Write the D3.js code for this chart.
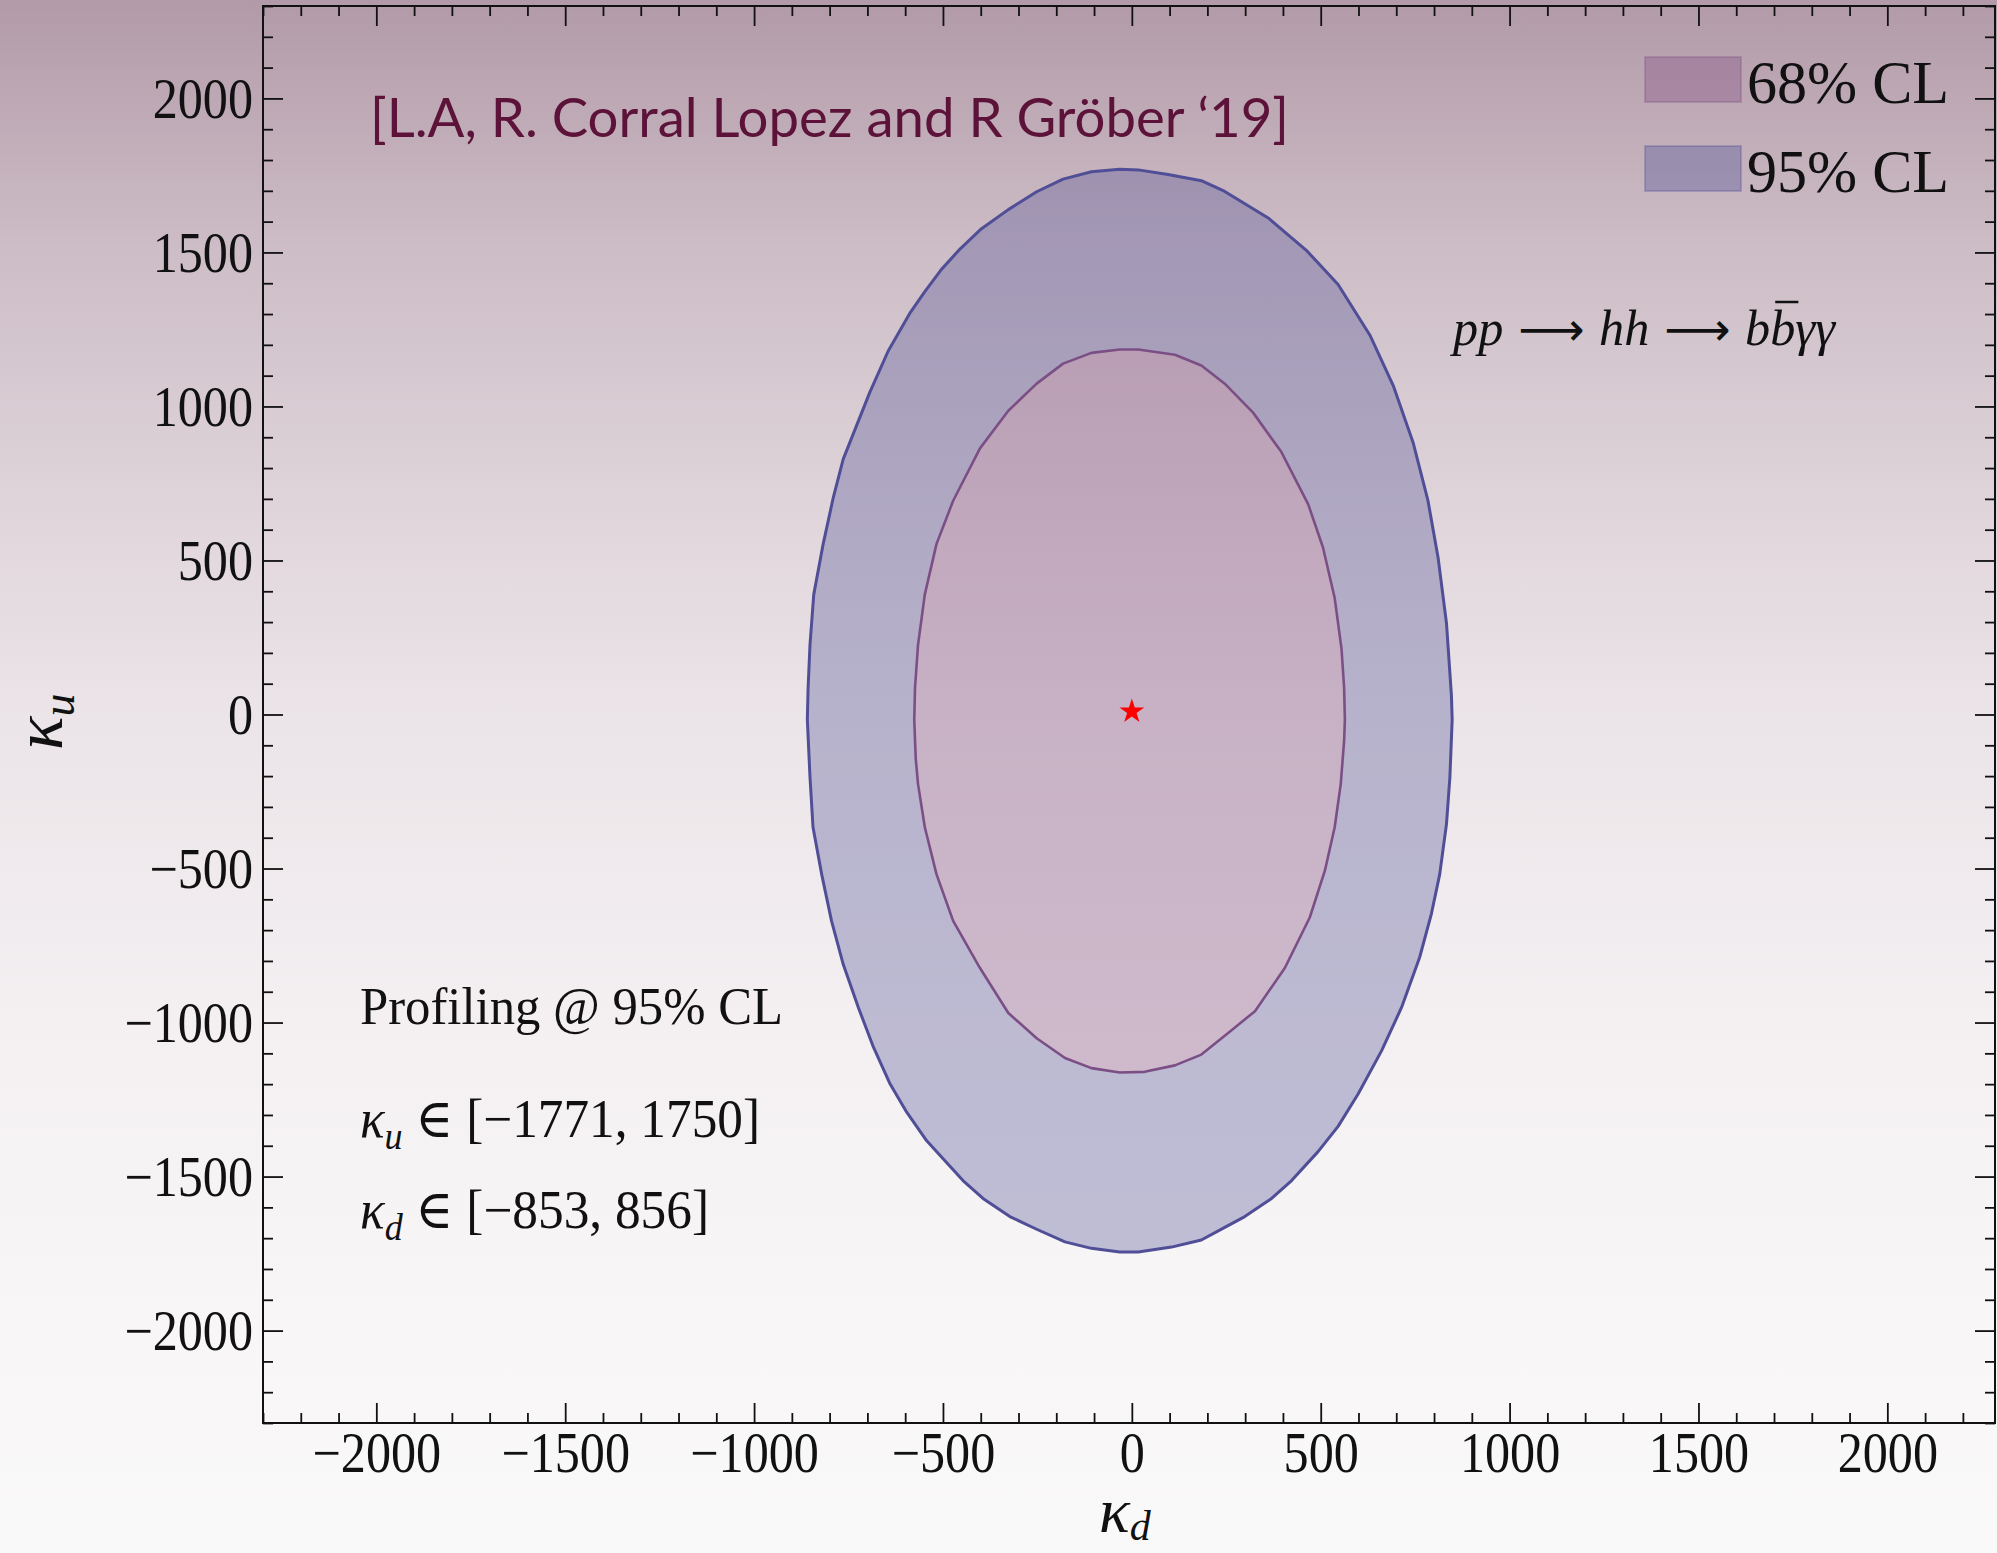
<!DOCTYPE html>
<html>
<head>
<meta charset="utf-8">
<script src="https://cdn.jsdelivr.net/npm/d3@7"></script>
<style>
  html, body { margin: 0; padding: 0; overflow: hidden; background: #faf9fa; }
  svg { display: block; }
</style>
</head>
<body>
<svg id="chart" width="1997" height="1553"></svg>
<script>
// 95% CL contour of (kappa_d, kappa_u), traced counter-clockwise from the top
const contour95 = [
  [-32,1770],[-107,1762],[-182,1738],[-252,1697],[-327,1639],[-398,1577],[-455,1511],[-504,1445],
  [-548,1373],[-588,1302],[-645,1180],[-694,1045],[-764,829],[-790,706],[-817,554],[-842,390],
  [-852,226],[-857,86],[-859,-17],
  [-852,-203],[-844,-366],[-821,-519],[-795,-670],[-764,-811],[-724,-951],[-684,-1080],[-641,-1197],
  [-596,-1291],[-543,-1384],[-499,-1443],[-447,-1513],[-394,-1571],[-323,-1630],[-252,-1671],
  [-177,-1712],[-107,-1733],[-32,-1745],[17,-1745],
  [105,-1729],[184,-1706],[246,-1665],[299,-1630],[370,-1571],[423,-1513],[493,-1419],[546,-1337],
  [599,-1232],[661,-1092],[714,-951],[762,-788],[793,-647],[815,-519],[833,-355],[842,-203],[848,-17],
  [846,62],[833,296],[811,507],[784,694],[745,881],[692,1068],[630,1232],[546,1396],[462,1507],
  [361,1612],[246,1698],[184,1733],[96,1753],[17,1768]
];

// 68% CL contour
const contour68 = [
  [-32,1185],[-107,1174],[-182,1139],[-252,1074],[-327,986],[-402,864],[-473,694],[-517,554],
  [-548,390],[-566,226],[-574,86],[-576,-17],
  [-572,-144],[-566,-226],[-548,-366],[-517,-519],[-473,-670],[-402,-823],[-327,-969],[-252,-1051],
  [-177,-1115],[-107,-1148],[-32,-1162],
  [34,-1160],[114,-1139],[184,-1104],[255,-1034],[326,-963],[405,-823],[471,-659],[511,-507],
  [537,-366],[553,-226],[562,-85],[564,-17],
  [562,86],[555,214],[537,378],[506,542],[467,682],[396,852],[321,980],[246,1074],[184,1133],
  [114,1168],[17,1185]
];

// best-fit point
const bestFit = [[0, 10]];

// axis ticks
const majorTicks = [-2000, -1500, -1000, -500, 0, 500, 1000, 1500, 2000];
const minorTicks = d3.range(-2300, 2301, 100).filter(v => v % 500 !== 0);

// legend entries and annotation text
const legendLabels = ["68% CL", "95% CL"];
const creditText = "[L.A, R. Corral Lopez and R Gröber \u201819]";
const profileTitle = "Profiling @ 95% CL";
const kuRange = "[\u22121771, 1750]";
const kdRange = "[\u2212853, 856]";

const W = 1997, H = 1553;
const svg = d3.select("#chart");

const colors = {
  fill95: "rgb(87,86,153)",
  edge95: "#504e96",
  fill68: "rgb(134,83,133)",
  edge68: "#7b4f85",
  text: "#111"
};

// figure background: vertical mauve-to-white wash
const defs = svg.append("defs");
const grad = defs.append("linearGradient")
  .attr("id", "bg").attr("x1", 0).attr("y1", 0).attr("x2", 0).attr("y2", 1);
[[0, "#b29aa8"], [0.16, "#cdbdc6"], [0.33, "#e0d5db"], [0.46, "#ebe4e8"],
 [0.66, "#f4f0f2"], [0.85, "#f8f6f7"], [1, "#faf9fa"]]
  .forEach(([o, c]) => grad.append("stop").attr("offset", o).attr("stop-color", c));
svg.append("rect").attr("width", W).attr("height", H).attr("fill", "url(#bg)");

// plot frame
const frame = { left: 263, right: 1995, top: 6, bottom: 1423 };
const x = d3.scaleLinear().domain([-2300, 2285]).range([frame.left, frame.right]);
const y = d3.scaleLinear().domain([-2300, 2300]).range([frame.bottom, frame.top]);

const fmt = v => (v < 0 ? "\u2212" : "") + Math.abs(v);

// contour fills: ring between the two contours, then the inner region
const line = d3.line().x(d => x(d[0])).y(d => y(d[1])).curve(d3.curveLinearClosed);
svg.append("path")
  .attr("d", line(contour95) + line(contour68))
  .attr("fill", colors.fill95).attr("fill-opacity", 0.35)
  .attr("fill-rule", "evenodd");
svg.append("path")
  .attr("d", line(contour68))
  .attr("fill", colors.fill68).attr("fill-opacity", 0.35);
svg.append("path")
  .attr("d", line(contour95))
  .attr("fill", "none").attr("stroke", colors.edge95).attr("stroke-width", 3)
  .attr("stroke-linejoin", "round");
svg.append("path")
  .attr("d", line(contour68))
  .attr("fill", "none").attr("stroke", colors.edge68).attr("stroke-width", 2.6)
  .attr("stroke-linejoin", "round");

// best-fit star
svg.selectAll("path.star").data(bestFit).join("path")
  .attr("class", "star")
  .attr("d", d3.symbol(d3.symbolStar, 190))
  .attr("transform", d => `translate(${x(d[0])},${y(d[1])})`)
  .attr("fill", "red");

// axes with inward ticks on all four sides
function styleAxis(g) {
  g.select(".domain").remove();
  g.selectAll(".tick line").attr("stroke", "#111").attr("stroke-width", 1.8);
}
const fontTick = 57;
const serif = "Liberation Serif, DejaVu Serif, serif";
const xMinor = minorTicks.filter(v => v < 2285);

// narrow the numerals a little, as in a Computer-Modern style face
function narrowLabels(g) {
  g.selectAll("text")
    .attr("font-size", fontTick).attr("fill", colors.text).attr("font-family", serif)
    .each(function () {
      const n = this.getComputedTextLength();
      d3.select(this).attr("textLength", n * 0.88).attr("lengthAdjust", "spacingAndGlyphs");
    });
}

svg.append("g").attr("transform", `translate(0,${frame.bottom})`)
  .call(d3.axisBottom(x).tickValues(majorTicks).tickSize(-20).tickPadding(9).tickFormat(fmt))
  .call(styleAxis)
  .call(narrowLabels);
svg.append("g").attr("transform", `translate(0,${frame.bottom})`)
  .call(d3.axisBottom(x).tickValues(xMinor).tickSize(-10).tickFormat(""))
  .call(styleAxis);
svg.append("g").attr("transform", `translate(0,${frame.top})`)
  .call(d3.axisTop(x).tickValues(majorTicks).tickSize(-20).tickFormat(""))
  .call(styleAxis);
svg.append("g").attr("transform", `translate(0,${frame.top})`)
  .call(d3.axisTop(x).tickValues(xMinor).tickSize(-10).tickFormat(""))
  .call(styleAxis);

svg.append("g").attr("transform", `translate(${frame.left},0)`)
  .call(d3.axisLeft(y).tickValues(majorTicks).tickSize(-20).tickPadding(10).tickFormat(fmt))
  .call(styleAxis)
  .call(narrowLabels)
  .call(g => g.selectAll("text").attr("dy", "0.34em"));
svg.append("g").attr("transform", `translate(${frame.left},0)`)
  .call(d3.axisLeft(y).tickValues(minorTicks).tickSize(-10).tickFormat(""))
  .call(styleAxis);
svg.append("g").attr("transform", `translate(${frame.right},0)`)
  .call(d3.axisRight(y).tickValues(majorTicks).tickSize(-20).tickFormat(""))
  .call(styleAxis);
svg.append("g").attr("transform", `translate(${frame.right},0)`)
  .call(d3.axisRight(y).tickValues(minorTicks).tickSize(-10).tickFormat(""))
  .call(styleAxis);

svg.append("rect")
  .attr("x", frame.left).attr("y", frame.top)
  .attr("width", frame.right - frame.left).attr("height", frame.bottom - frame.top)
  .attr("fill", "none").attr("stroke", "#111").attr("stroke-width", 2);

// axis titles
const kd = svg.append("text").attr("x", 1099).attr("y", 1532)
  .attr("font-family", serif).attr("font-size", 64).attr("font-style", "italic").attr("fill", colors.text);
kd.append("tspan").text("\u03ba");
kd.append("tspan").attr("font-size", 42).attr("dy", 8).text("d");

const ku = svg.append("text").attr("transform", "translate(62,750) rotate(-90)")
  .attr("font-family", serif).attr("font-size", 70).attr("font-style", "italic").attr("fill", colors.text);
ku.append("tspan").text("\u03ba");
ku.append("tspan").attr("font-size", 46).attr("dy", 12).text("u");

// credit line
svg.append("text").attr("x", 370).attr("y", 137)
  .attr("font-family", "Lato, Open Sans, sans-serif").attr("font-size", 54)
  .attr("fill", "#5c1239")
  .attr("textLength", 919).attr("lengthAdjust", "spacingAndGlyphs")
  .text(creditText);

// process label
const proc = svg.append("text").attr("x", 1453).attr("y", 345)
  .attr("font-family", serif).attr("font-size", 50).attr("fill", colors.text)
  .attr("textLength", 382).attr("lengthAdjust", "spacingAndGlyphs");
proc.append("tspan").attr("font-style", "italic").text("pp");
proc.append("tspan").attr("font-family", "DejaVu Sans").attr("font-size", 46).text(" \u27f6 ");
proc.append("tspan").attr("font-style", "italic").text("hh");
proc.append("tspan").attr("font-family", "DejaVu Sans").attr("font-size", 46).text(" \u27f6 ");
proc.append("tspan").attr("font-style", "italic").text("b");
proc.append("tspan").attr("font-style", "italic").text("b");
proc.append("tspan").attr("font-style", "italic").text("\u03b3\u03b3");
// bar over the anti-b
{
  const t = proc.node();
  const idx = "pp \u27f6 hh \u27f6 b".length;
  const s = t.getStartPositionOfChar(idx);
  const e = t.getEndPositionOfChar(idx);
  svg.append("line").attr("x1", s.x + 5).attr("x2", e.x + 3)
    .attr("y1", 345 - 43).attr("y2", 345 - 43)
    .attr("stroke", colors.text).attr("stroke-width", 2.5);
}

// profiled ranges
svg.append("text").attr("x", 360).attr("y", 1024)
  .attr("font-family", serif).attr("font-size", 53).attr("fill", colors.text)
  .attr("textLength", 423).attr("lengthAdjust", "spacingAndGlyphs")
  .text(profileTitle);

function rangeLine(yPos, sub, range, width) {
  const t = svg.append("text").attr("x", 360).attr("y", yPos)
    .attr("font-family", serif).attr("font-size", 54).attr("fill", colors.text);
  t.append("tspan").attr("font-style", "italic").text("\u03ba");
  t.append("tspan").attr("font-style", "italic").attr("font-size", 38).attr("dy", 12).text(sub);
  t.append("tspan").attr("dy", -12).text(" \u2208 " + range);
  t.attr("textLength", width).attr("lengthAdjust", "spacingAndGlyphs");
}
rangeLine(1137, "u", kuRange, 400);
rangeLine(1228, "d", kdRange, 349);

// legend
const legend = svg.append("g");
const patchFill = [colors.fill68, colors.fill95];
const patchEdge = [colors.edge68, colors.edge95];
legendLabels.forEach((lab, i) => {
  const yy = 57 + i * 89;
  legend.append("rect").attr("x", 1645).attr("y", yy).attr("width", 96).attr("height", 45)
    .attr("fill", patchFill[i]).attr("fill-opacity", 0.38)
    .attr("stroke", patchEdge[i]).attr("stroke-opacity", 0.3).attr("stroke-width", 2);
  legend.append("text").attr("x", 1747).attr("y", yy + 46)
    .attr("font-family", serif).attr("font-size", 62).attr("fill", colors.text)
    .attr("textLength", 202).attr("lengthAdjust", "spacingAndGlyphs")
    .text(lab);
});
</script>
</body>
</html>
